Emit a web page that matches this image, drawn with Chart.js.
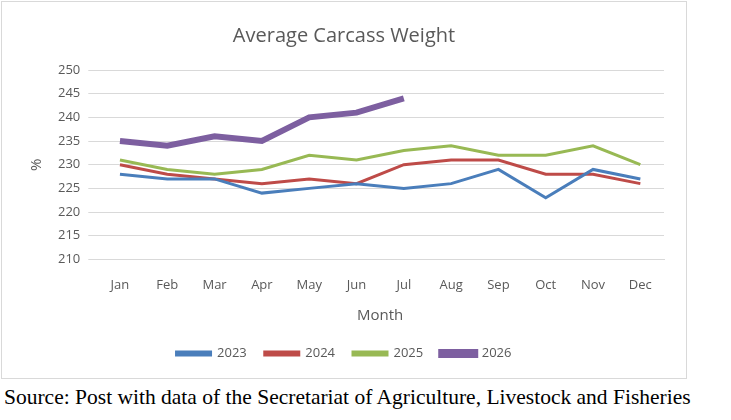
<!DOCTYPE html>
<html><head>
<script src="https://cdn.jsdelivr.net/npm/chart.js@4/dist/chart.umd.min.js"></script>
<style>
body{margin:0;background:#fff;}
#box{position:absolute;left:1px;top:1px;width:684px;height:376px;border:1px solid #d9d9d9;}
#src{position:absolute;left:4px;top:385px;font-family:"Liberation Serif",serif;font-size:21.5px;color:#000;white-space:nowrap;}
</style></head><body>
<div id="box"><canvas id="c" width="684" height="376"></canvas></div>
<div id="src">Source: Post with data of the Secretariat of Agriculture, Livestock and Fisheries</div>
<script>
var months = ['Jan','Feb','Mar','Apr','May','Jun','Jul','Aug','Sep','Oct','Nov','Dec'];
var y2023 = [228,227,227,224,225,226,225,226,229,223,229,227];
var y2024 = [230,228,227,226,227,226,230,231,231,228,228,226];
var y2025 = [231,229,228,229,232,231,233,234,232,232,234,230];
var y2026 = [235,234,236,235,240,241,244];

function ds(label, data, color, w) {
  return {label: label, data: data, borderColor: color, backgroundColor: color,
    borderWidth: w, pointRadius: 0, tension: 0, fill: false};
}
var fam = '"Open Sans", sans-serif';
new Chart(document.getElementById('c'), {
  type: 'line',
  data: {labels: months, datasets: [
    ds('2023', y2023, '#4a7ebb', 3),
    ds('2024', y2024, '#be4b48', 3),
    ds('2025', y2025, '#98b954', 3),
    ds('2026', y2026, '#7d5fa0', 6)
  ]},
  options: {
    responsive: false, animation: false,
    layout: {padding: {left: 22, right: 22, top: 8, bottom: 8}},
    plugins: {
      title: {display: true, text: 'Average Carcass Weight', color: '#595959',
        font: {family: fam, size: 20, weight: 'normal'}, padding: {top: 14, bottom: 22}},
      legend: {position: 'bottom', labels: {boxWidth: 34, boxHeight: 3, color: '#595959',
        font: {family: fam, size: 13}, padding: 18}}
    },
    scales: {
      x: {offset: true, grid: {display: false}, border: {color: '#d9d9d9'},
        ticks: {color: '#595959', font: {family: fam, size: 13}, padding: 10},
        title: {display: true, text: 'Month', color: '#595959', font: {family: fam, size: 15}}},
      y: {min: 210, max: 250, grid: {color: '#d9d9d9'}, border: {display: false},
        ticks: {stepSize: 5, color: '#595959', font: {family: fam, size: 13}, padding: 8},
        title: {display: true, text: '%', color: '#595959', font: {family: fam, size: 15}}}
    }
  }
});
</script>
</body></html>
